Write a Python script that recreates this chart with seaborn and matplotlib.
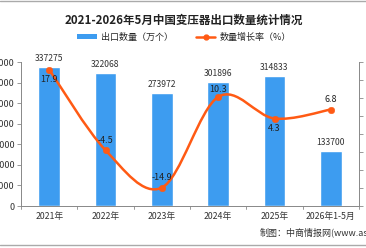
import matplotlib
matplotlib.use("Agg")
import numpy as np
import pandas as pd
import matplotlib.pyplot as plt
from matplotlib.path import Path
from matplotlib.patches import PathPatch, Patch
from matplotlib.lines import Line2D
import seaborn as sns

categories = ["2021年", "2022年", "2023年", "2024年", "2025年", "2026年1-5月"]
export_qty = [337275, 322068, 273972, 301896, 314833, 133700]
growth = [17.9, -4.5, -14.9, 10.3, 4.3, 6.8]

BAR_COLOR = "#3d9cf0"
LINE_COLOR = "#ff5a14"

sns.set_theme(style="white")
plt.rcParams['font.family'] = ['Noto Sans CJK SC', 'DejaVu Sans']

df = pd.DataFrame({"cat": categories, "qty": export_qty, "growth": growth})

fig = plt.figure(figsize=(3.66, 2.48), dpi=100)
ax = fig.add_axes([21 / 366, 42 / 248, 338 / 366, 144 / 248])

sns.barplot(data=df, x="cat", y="qty", color=BAR_COLOR, width=0.39,
            saturation=1, ax=ax)
ax.set_ylim(0, 350000)
ax.set_yticks(np.arange(0, 350001, 50000))
ax.set_xlim(-0.5, len(categories) - 0.5)
ax.set_xlabel("")
ax.set_ylabel("")
ax.tick_params(axis="y", labelsize=6.5, length=3, width=0.6, color="#888888",
               left=True, pad=1.5, labelcolor="#333333")
ax.set_xticks(range(len(categories)))
ax.set_xticklabels(categories, fontsize=6.3, color="#333333")
ax.tick_params(axis="x", length=0, pad=4)
# tick marks between the categories
for b in np.arange(-0.5, len(categories), 1.0):
    ax.plot([b, b], [0, -0.018], transform=ax.get_xaxis_transform(),
            color="#888888", lw=0.6, clip_on=False)
for s in ["top", "right"]:
    ax.spines[s].set_visible(False)
for s in ["left", "bottom"]:
    ax.spines[s].set_color("#888888")
    ax.spines[s].set_linewidth(0.7)

for i, v in enumerate(export_qty):
    ax.annotate(f"{v}", (i, v), xytext=(0, 3), textcoords="offset points",
                ha="center", va="bottom", fontsize=6.2, color="#333333")

ax2 = ax.twinx()
ax2.set_ylim(-20, 20)
ax2.set_yticks(np.arange(-20, 21, 5))
ax2.tick_params(axis="y", labelsize=6.5, length=3, width=0.6, color="#888888",
                right=True, pad=1.5, labelcolor="#333333")
for s in ["top", "left", "bottom"]:
    ax2.spines[s].set_visible(False)
ax2.spines["right"].set_color("#888888")
ax2.spines["right"].set_linewidth(0.7)

# smooth curve through the growth points (Catmull-Rom as cubic Bezier)
pts = np.column_stack([np.arange(len(growth)), growth]).astype(float)
ext = np.vstack([pts[0], pts, pts[-1]])
verts = [tuple(pts[0])]
codes = [Path.MOVETO]
for i in range(len(pts) - 1):
    p0, p1, p2, p3 = ext[i], ext[i + 1], ext[i + 2], ext[i + 3]
    c1 = p1 + (p2 - p0) / 6
    c2 = p2 - (p3 - p1) / 6
    verts += [tuple(c1), tuple(c2), tuple(p2)]
    codes += [Path.CURVE4] * 3
ax2.add_patch(PathPatch(Path(verts, codes), facecolor="none",
                        edgecolor=LINE_COLOR, lw=1.8))
sns.scatterplot(data=df, x="cat", y="growth", color=LINE_COLOR, s=22,
                edgecolor=LINE_COLOR, zorder=5, ax=ax2, legend=False)
ax2.set_xlabel("")
ax2.set_ylabel("")

offsets = [-7, 7, 7, 5, -7, 7]
for i, (v, o) in enumerate(zip(growth, offsets)):
    ax2.annotate(f"{v}", (i, v), xytext=(0, o), textcoords="offset points",
                 ha="center", va="center", fontsize=6.5, color="#222222")

fig.text(184 / 366, 1 - 20 / 248, "2021-2026年5月中国变压器出口数量统计情况",
         ha="center", va="center", fontsize=8.3, fontweight="bold", color="#222222")

handles = [Patch(facecolor=BAR_COLOR, edgecolor="none"),
           Line2D([0], [0], color=LINE_COLOR, lw=1.8, marker="o", markersize=3.5)]
fig.legend(handles, ["出口数量（万个）", "数量增长率（%）"], loc="center",
           bbox_to_anchor=(184 / 366, 1 - 37 / 248), ncol=2, frameon=False,
           fontsize=6.5, handlelength=2.2, handleheight=0.6, columnspacing=2.5,
           handletextpad=0.5)

fig.text(260 / 366, 1 - 232 / 248, "制图：中商情报网(www.askci.com)",
         ha="left", va="center", fontsize=6.5, color="#333333")

fig.add_artist(Line2D([0, 1], [1 - 1 / 248, 1 - 1 / 248], color="#aaaaaa", lw=1))
fig.add_artist(Line2D([0, 1], [1 - 245 / 248, 1 - 245 / 248], color="#aaaaaa", lw=1))

fig.savefig("out.png", dpi=100)
